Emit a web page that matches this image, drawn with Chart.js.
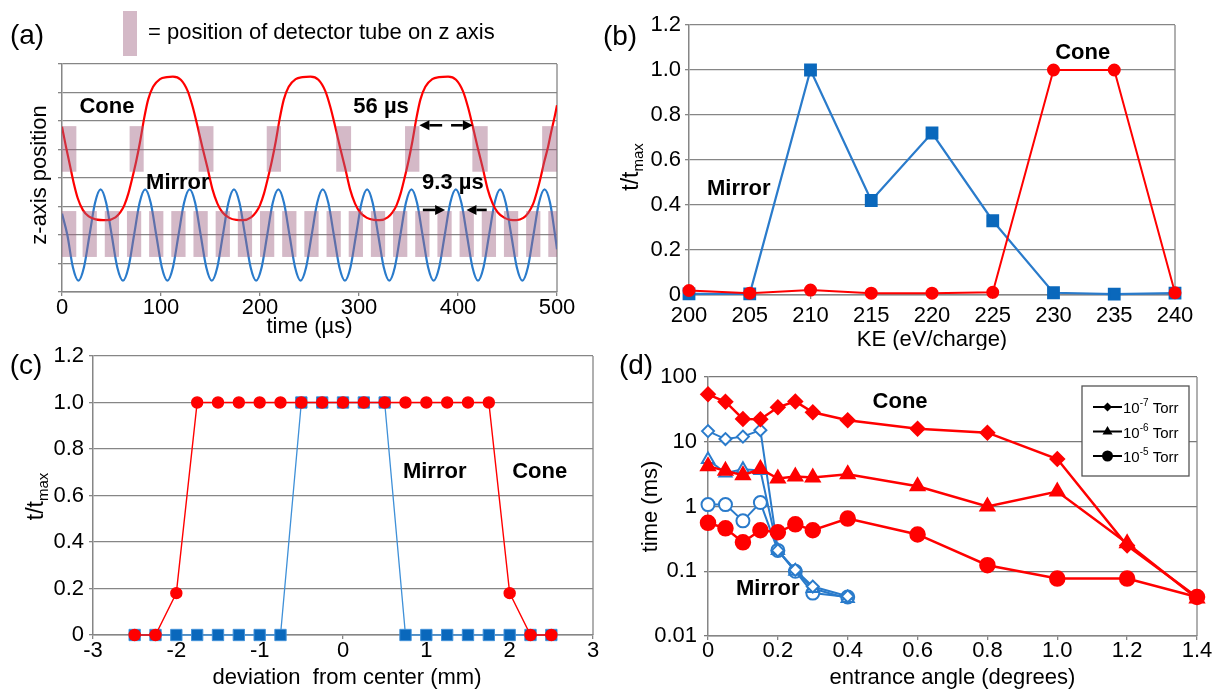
<!DOCTYPE html>
<html lang="en">
<head>
<meta charset="UTF-8">
<title>Trapping in cone and mirror</title>
<script src="https://cdn.jsdelivr.net/npm/chart.js"></script>
<style>
  html, body { margin: 0; padding: 0; background: #fff; }
  #page { position: relative; width: 1220px; height: 694px; overflow: hidden; }
  #page canvas { position: absolute; }
</style>
</head>
<body>
<div id="page">
  <canvas id="panelA" width="600" height="345" style="left:0px;top:0px"></canvas>
  <canvas id="panelB" width="620" height="350" style="left:600px;top:0px"></canvas>
  <canvas id="panelC" width="610" height="354" style="left:0px;top:340px"></canvas>
  <canvas id="panelD" width="620" height="354" style="left:600px;top:340px"></canvas>
</div>
<script>
const FONT = '"Liberation Sans", Arial, sans-serif';
const RED = '#ff0000';
const BLUE = '#2a7bcb';
const BLUE_DARK = '#0a68bc';
const GRID = '#868686';
const TUBE = 'rgba(160, 100, 130, 0.45)';

// (a) z position against time
const timeTicks = [0, 100, 200, 300, 400, 500];
const zTicks = [0, 1, 2, 3, 4, 5, 6, 7, 8];
const coneT = [0, 4, 8, 12, 16, 21, 27, 34, 45, 54, 59, 63, 67, 71, 75, 79, 83, 87, 92, 99, 106, 112,
  120, 127, 132, 137, 142, 147, 152, 157, 162, 169, 176, 183,
  191, 196, 200, 204, 208, 212, 216, 220, 224, 229, 236, 243, 251,
  259, 266, 271, 276, 281, 286, 291, 296, 301, 308, 315, 321,
  329, 334, 338, 342, 346, 350, 354, 358, 362, 367, 374, 381, 390,
  398, 405, 410, 415, 420, 425, 430, 435, 440, 447, 453, 459,
  466, 471, 476, 480, 483, 487, 491, 494, 497, 500];
const coneZ = [5.8, 5.1, 4.45, 3.8, 3.28, 2.88, 2.65, 2.55, 2.52, 2.62, 2.8, 3.05, 3.45, 4.0, 4.6, 5.3, 6.1, 6.75, 7.2, 7.47, 7.54, 7.56,
  7.45, 7.05, 6.5, 5.8, 5.05, 4.35, 3.6, 3.1, 2.8, 2.6, 2.53, 2.52,
  2.62, 2.8, 3.05, 3.45, 4.0, 4.6, 5.3, 6.1, 6.75, 7.2, 7.47, 7.54, 7.56,
  7.45, 7.05, 6.5, 5.8, 5.05, 4.35, 3.6, 3.1, 2.8, 2.6, 2.53, 2.52,
  2.62, 2.8, 3.05, 3.45, 4.0, 4.6, 5.3, 6.1, 6.75, 7.2, 7.47, 7.54, 7.56,
  7.45, 7.05, 6.5, 5.8, 5.05, 4.35, 3.6, 3.1, 2.8, 2.6, 2.53, 2.52,
  2.6, 2.78, 3.1, 3.55, 3.95, 4.55, 5.1, 5.6, 6.05, 6.55];
const mirrorT = [0, 5.4, 11, 16.6,
  22.2, 27.8, 33.4, 39, 44.6, 50.2, 55.8, 61.6,
  67.2, 72.8, 78.4, 84, 89.6, 95.2, 100.8, 106.5,
  112.1, 117.7, 123.3, 128.9, 134.5, 140.1, 145.7, 151.3,
  156.9, 162.5, 168.1, 173.7, 179.3, 184.9, 190.5, 196.1,
  201.7, 207.3, 212.9, 218.6, 224.2, 229.8, 235.4, 241,
  246.6, 252.2, 257.8, 263.4, 269, 274.6, 280.2, 285.8,
  291.4, 297, 302.6, 308.2, 313.8, 319.4, 325, 330.6,
  336.2, 341.8, 347.4, 353, 358.6, 364.2, 369.8, 375.4,
  381, 386.6, 392.2, 397.8, 403.4, 409, 414.6, 420.2,
  425.8, 431.4, 437, 442.6, 448.2, 453.8, 459.4, 465,
  470.6, 476.2, 481.8, 487.4, 493, 498, 500];
const mirrorZ = [2.75, 2.0, 0.87, 0.4,
  0.87, 2.0, 3.13, 3.6, 3.13, 2.0, 0.87, 0.4,
  0.87, 2.0, 3.13, 3.6, 3.13, 2.0, 0.87, 0.4,
  0.87, 2.0, 3.13, 3.6, 3.13, 2.0, 0.87, 0.4,
  0.87, 2.0, 3.13, 3.6, 3.13, 2.0, 0.87, 0.4,
  0.87, 2.0, 3.13, 3.6, 3.13, 2.0, 0.87, 0.4,
  0.87, 2.0, 3.13, 3.6, 3.13, 2.0, 0.87, 0.4,
  0.87, 2.0, 3.13, 3.6, 3.13, 2.0, 0.87, 0.4,
  0.87, 2.0, 3.13, 3.6, 3.13, 2.0, 0.87, 0.4,
  0.87, 2.0, 3.13, 3.6, 3.13, 2.0, 0.87, 0.4,
  0.87, 2.0, 3.13, 3.6, 3.13, 2.0, 0.87, 0.4,
  0.87, 2.0, 3.13, 3.6, 3.13, 2.0, 1.5];
// detector tube: z extent and the time windows the ion spends inside it
const coneTubeZ = [4.22, 5.82];
const mirrorTubeZ = [1.23, 2.84];
const coneTubeWindows = [[0, 14.5], [68.3, 82.5], [138, 153], [206.8, 221.2], [277, 292], [346.5, 361], [414.5, 430], [485, 500]];
const mirrorTubeWindows = [[0, 14.4], [20.8, 35.2], [43.2, 57.6], [65.6, 80], [88, 102.4], [110.4, 124.8], [132.8, 147.2],
  [155.2, 169.6], [177.6, 192], [200, 214.4], [222.4, 236.8], [244.8, 259.2], [267.2, 281.6], [289.6, 304],
  [312, 326.4], [334.4, 348.8], [356.8, 371.2], [379.2, 393.6], [401.6, 416], [424, 438.4], [446.4, 460.8],
  [468.8, 483.2], [491.2, 500]];

// (b) normalised trapping time against kinetic energy
const keV = [200, 205, 210, 215, 220, 225, 230, 235, 240];
const keMirror = [0.005, 0.005, 1.0, 0.42, 0.72, 0.33, 0.01, 0.004, 0.008];
const keCone = [0.02, 0.008, 0.022, 0.008, 0.008, 0.012, 1.0, 1.0, 0.01];
const fracTicks = [0, 0.2, 0.4, 0.6, 0.8, 1.0, 1.2];
const fracLabels = ['0', '0.2', '0.4', '0.6', '0.8', '1.0', '1.2'];

// (c) normalised trapping time against beam offset
const offsetMm = [-2.5, -2.25, -2, -1.75, -1.5, -1.25, -1, -0.75, -0.5, -0.25, 0, 0.25, 0.5, 0.75, 1, 1.25, 1.5, 1.75, 2, 2.25, 2.5];
const offsetMirror = [0, 0, 0, 0, 0, 0, 0, 0, 1, 1, 1, 1, 1, 0, 0, 0, 0, 0, 0, 0, 0];
const offsetCone = [0, 0, 0.18, 1, 1, 1, 1, 1, 1, 1, 1, 1, 1, 1, 1, 1, 1, 1, 0.18, 0, 0];
const mmTicks = [-3, -2, -1, 0, 1, 2, 3];

// (d) trapping time (ms) against entrance angle, three pressures
const angleCone = [0, 0.05, 0.1, 0.15, 0.2, 0.25, 0.3, 0.4, 0.6, 0.8, 1.0, 1.2, 1.4];
const cone7 = [54, 41.5, 22.5, 22.3, 34, 42, 28.5, 21.5, 15.9, 13.8, 5.4, 0.25, 0.04];
const cone6 = [4.2, 3.55, 3.05, 3.8, 2.7, 2.9, 2.8, 3.15, 2.05, 1.0, 1.7, 0.27, 0.038];
const cone5 = [0.56, 0.46, 0.28, 0.43, 0.4, 0.53, 0.43, 0.65, 0.37, 0.124, 0.077, 0.077, 0.04];
const angleMirror = [0, 0.05, 0.1, 0.15, 0.2, 0.25, 0.3, 0.4];
const mirror7 = [14.6, 11, 12, 15.1, 0.21, 0.105, 0.058, 0.041];
const mirror6 = [5.3, 3.3, 3.75, 3.6, 0.21, 0.1, 0.054, 0.038];
const mirror5 = [1.07, 1.07, 0.6, 1.15, 0.21, 0.1, 0.046, 0.04];
const angleTicks = [0, 0.2, 0.4, 0.6, 0.8, 1.0, 1.2, 1.4];
const angleLabels = ['0', '0.2', '0.4', '0.6', '0.8', '1.0', '1.2', '1.4'];
const msTicks = [0.01, 0.1, 1, 10, 100];
const msLabels = ['0.01', '0.1', '1', '10', '100'];
const pressureExp = ['-7', '-6', '-5'];
const pressureStyle = ['rectRot', 'triangle', 'circle'];

Chart.defaults.font.family = FONT;

const pts = (xs, ys) => xs.map((v, i) => ({ x: v, y: ys[i] }));

function xAxis(o) {
  return {
    type: 'linear', min: o.min, max: o.max,
    afterBuildTicks: s => { s.ticks = o.ticks.map(v => ({ value: v })); },
    afterFit: s => { s.height = o.height; },
    ticks: {
      autoSkip: false, maxRotation: 0, padding: o.pad, color: '#000',
      font: { family: FONT, size: 22, lineHeight: 1 },
      callback: (v, i) => o.labels[i]
    },
    grid: { drawOnChartArea: false, tickLength: 4, color: GRID, lineWidth: 1.3 },
    border: { color: GRID, width: 1.5 }
  };
}

function yAxis(o) {
  return {
    type: o.type || 'linear', min: o.min, max: o.max,
    afterBuildTicks: s => { s.ticks = o.ticks.map(v => ({ value: v })); },
    afterFit: s => { s.width = o.width; },
    ticks: {
      display: !!o.labels, padding: o.pad || 3, color: '#000',
      font: { family: FONT, size: 22, lineHeight: 1 },
      callback: (v, i) => (o.labels ? o.labels[i] : '')
    },
    grid: { tickLength: 4, color: o.grid || GRID, lineWidth: 1.3 },
    border: { color: GRID, width: 1.5 }
  };
}

function baseOptions(top, right, scales) {
  return {
    responsive: false, animation: false, events: [],
    layout: { padding: { left: 0, top: top, right: right, bottom: 0 } },
    plugins: { legend: { display: false }, tooltip: { enabled: false } },
    scales: scales
  };
}

function put(ctx, str, x, y, size, o = {}) {
  ctx.save();
  ctx.font = (o.bold ? 'bold ' : '') + size + 'px ' + FONT;
  ctx.fillStyle = '#000';
  ctx.textAlign = o.align || 'center';
  ctx.textBaseline = 'middle';
  ctx.translate(x, y);
  if (o.rotate) ctx.rotate(-Math.PI / 2);
  ctx.fillText(str, 0, 0);
  ctx.restore();
}

// text made of runs with their own size and baseline shift (sub/superscripts)
function putRuns(ctx, runs, x, y, o = {}) {
  ctx.save();
  ctx.translate(x, y);
  if (o.rotate) ctx.rotate(-Math.PI / 2);
  ctx.fillStyle = '#000';
  ctx.textBaseline = 'alphabetic';
  ctx.textAlign = 'left';
  const widths = runs.map(r => { ctx.font = r.size + 'px ' + FONT; return ctx.measureText(r.t).width; });
  let cx = o.align === 'left' ? 0 : -widths.reduce((s, w) => s + w, 0) / 2;
  runs.forEach((r, i) => { ctx.font = r.size + 'px ' + FONT; ctx.fillText(r.t, cx, r.dy); cx += widths[i]; });
  ctx.restore();
}

const tMax = [{ t: 't/t', size: 23, dy: 8 }, { t: 'max', size: 15, dy: 13 }];

function arrow(ctx, x1, x2, y) {
  const dir = Math.sign(x2 - x1), head = 10, half = 5;
  ctx.save();
  ctx.strokeStyle = '#000';
  ctx.fillStyle = '#000';
  ctx.lineWidth = 2.6;
  ctx.beginPath();
  ctx.moveTo(x1, y);
  ctx.lineTo(x2 - dir * head, y);
  ctx.stroke();
  ctx.beginPath();
  ctx.moveTo(x2, y);
  ctx.lineTo(x2 - dir * head, y - half);
  ctx.lineTo(x2 - dir * head, y + half);
  ctx.closePath();
  ctx.fill();
  ctx.restore();
}

function rightEdge(chart) {
  const { ctx, chartArea: a } = chart;
  ctx.save();
  ctx.strokeStyle = GRID;
  ctx.lineWidth = 1.3;
  ctx.beginPath();
  ctx.moveTo(a.right, a.top);
  ctx.lineTo(a.right, a.bottom);
  ctx.stroke();
  ctx.restore();
}

const decor = after => ({ id: 'decor', beforeDatasetsDraw: rightEdge, afterDatasetsDraw: after });

// ---------- (a) ----------
new Chart(document.getElementById('panelA'), {
  type: 'line',
  data: {
    datasets: [
      { data: pts(coneT, coneZ), borderColor: RED, borderWidth: 2.2, pointRadius: 0, cubicInterpolationMode: 'monotone' },
      { data: pts(mirrorT, mirrorZ), borderColor: BLUE, borderWidth: 2.2, pointRadius: 0, cubicInterpolationMode: 'monotone' }
    ]
  },
  options: baseOptions(64, 43, {
    x: xAxis({ min: 0, max: 500, ticks: timeTicks, labels: timeTicks.map(String), height: 53, pad: 1 }),
    y: yAxis({ min: 0, max: 8, ticks: zTicks, labels: null, width: 62 })
  }),
  plugins: [decor(chart => {
    const { ctx, chartArea: a, scales: { x, y } } = chart;
    // tube windows, laid translucently over the traces
    ctx.save();
    ctx.beginPath();
    ctx.rect(a.left, a.top, a.width, a.height);
    ctx.clip();
    ctx.fillStyle = TUBE;
    [[coneTubeWindows, coneTubeZ], [mirrorTubeWindows, mirrorTubeZ]].forEach(([wins, z]) => {
      wins.forEach(([t0, t1]) => {
        const x0 = x.getPixelForValue(t0), x1 = x.getPixelForValue(t1);
        const y0 = y.getPixelForValue(z[1]), y1 = y.getPixelForValue(z[0]);
        ctx.fillRect(x0, y0, x1 - x0, y1 - y0);
      });
    });
    ctx.restore();

    ctx.save();
    ctx.fillStyle = TUBE;
    ctx.fillRect(a.left + 61, a.top - 53, 14, 45);
    ctx.restore();
    put(ctx, '= position of detector tube on z axis', a.left + 86, a.top - 31, 22, { align: 'left' });
    put(ctx, '(a)', a.left - 35, a.top - 28, 28);

    put(ctx, 'Cone', x.getPixelForValue(45.4), y.getPixelForValue(6.5), 22, { bold: true });
    put(ctx, 'Mirror', x.getPixelForValue(117), y.getPixelForValue(3.83), 22, { bold: true });
    put(ctx, '56 µs', x.getPixelForValue(322.3), y.getPixelForValue(6.5), 22, { bold: true });
    put(ctx, '9.3 µs', x.getPixelForValue(394.8), y.getPixelForValue(3.83), 22, { bold: true });

    const yTop = y.getPixelForValue(5.85), yLow = y.getPixelForValue(2.88);
    arrow(ctx, x.getPixelForValue(384), x.getPixelForValue(361), yTop);
    arrow(ctx, x.getPixelForValue(393), x.getPixelForValue(415), yTop);
    arrow(ctx, x.getPixelForValue(364.5), x.getPixelForValue(387), yLow);
    arrow(ctx, x.getPixelForValue(429), x.getPixelForValue(408.5), yLow);

    put(ctx, 'z-axis position', a.left - 22, (a.top + a.bottom) / 2 - 3, 22, { rotate: true });
    put(ctx, 'time (µs)', (a.left + a.right) / 2, a.bottom + 35, 22);
  })]
});

// ---------- (b) ----------
new Chart(document.getElementById('panelB'), {
  type: 'line',
  data: {
    datasets: [
      { data: pts(keV, keCone), borderColor: RED, borderWidth: 2, pointStyle: 'circle', pointRadius: 5.5,
        pointBackgroundColor: RED, pointBorderColor: RED, clip: false },
      { data: pts(keV, keMirror), borderColor: BLUE, borderWidth: 2.2, pointStyle: 'rect', pointRadius: 7.5,
        pointBackgroundColor: BLUE_DARK, pointBorderColor: BLUE_DARK, clip: false }
    ]
  },
  options: baseOptions(25, 45, {
    x: xAxis({ min: 200, max: 240, ticks: keV, labels: keV.map(String), height: 55, pad: 6 }),
    y: yAxis({ min: 0, max: 1.2, ticks: fracTicks, labels: fracLabels, width: 89, pad: 4 })
  }),
  plugins: [decor(chart => {
    const { ctx, chartArea: a, scales: { x, y } } = chart;
    put(ctx, '(b)', a.left - 69, a.top + 12, 28);
    put(ctx, 'Mirror', x.getPixelForValue(204.1), y.getPixelForValue(0.473), 22, { bold: true });
    put(ctx, 'Cone', x.getPixelForValue(232.4), y.getPixelForValue(1.077), 22, { bold: true });
    putRuns(ctx, tMax, a.left - 59, (a.top + a.bottom) / 2 + 7, { rotate: true });
    put(ctx, 'KE (eV/charge)', (a.left + a.right) / 2, a.bottom + 45, 22);
  })]
});

// ---------- (c) ----------
new Chart(document.getElementById('panelC'), {
  type: 'line',
  data: {
    datasets: [
      { data: pts(offsetMm, offsetCone), borderColor: RED, borderWidth: 1.4, pointStyle: 'circle', pointRadius: 5.5,
        pointBackgroundColor: RED, pointBorderColor: RED, clip: false },
      { data: pts(offsetMm, offsetMirror), borderColor: '#3f90d8', borderWidth: 1.3, pointStyle: 'rect', pointRadius: 8,
        pointBackgroundColor: BLUE_DARK, pointBorderColor: '#3f90d8', pointBorderWidth: 1, clip: false }
    ]
  },
  options: baseOptions(16, 17, {
    x: xAxis({ min: -3, max: 3, ticks: mmTicks, labels: mmTicks.map(String), height: 59, pad: 1 }),
    y: yAxis({ min: 0, max: 1.2, ticks: fracTicks, labels: fracLabels, width: 93, pad: 5 })
  }),
  plugins: [decor(chart => {
    const { ctx, chartArea: a, scales: { x, y } } = chart;
    put(ctx, '(c)', a.left - 67, a.top + 10, 28);
    put(ctx, 'Mirror', x.getPixelForValue(1.1), y.getPixelForValue(0.7), 22, { bold: true });
    put(ctx, 'Cone', x.getPixelForValue(2.36), y.getPixelForValue(0.7), 22, { bold: true });
    putRuns(ctx, tMax, a.left - 58, (a.top + a.bottom) / 2 + 1, { rotate: true });
    put(ctx, 'deviation  from center (mm)', (a.left + a.right) / 2 + 4, a.bottom + 43, 22);
  })]
});

// ---------- (d) ----------
const coneSets = [cone7, cone6, cone5].map((vals, i) => ({
  data: pts(angleCone, vals), borderColor: RED, borderWidth: 2.5,
  pointStyle: pressureStyle[i], pointRadius: [6.5, 7.5, 7][i],
  pointBackgroundColor: RED, pointBorderColor: RED, clip: false
}));
const mirrorSets = [mirror7, mirror6, mirror5].map((vals, i) => ({
  data: pts(angleMirror, vals), borderColor: BLUE, borderWidth: 2,
  pointStyle: pressureStyle[i], pointRadius: [6, 7, 6.5][i], pointBorderWidth: 2,
  pointBackgroundColor: '#fff', pointBorderColor: BLUE, clip: false
}));

new Chart(document.getElementById('panelD'), {
  type: 'line',
  data: { datasets: coneSets.concat(mirrorSets) },
  options: baseOptions(37, 23, {
    x: xAxis({ min: 0, max: 1.4, ticks: angleTicks, labels: angleLabels, height: 58, pad: 0 }),
    y: yAxis({ type: 'logarithmic', min: 0.01, max: 100, ticks: msTicks, labels: msLabels, width: 108, pad: 7, grid: '#7a7a7a' })
  }),
  plugins: [decor(chart => {
    const { ctx, chartArea: a, scales: { x, y } } = chart;
    put(ctx, '(d)', a.left - 72, a.top - 11, 28);
    put(ctx, 'Cone', x.getPixelForValue(0.55), y.getPixelForValue(41.5), 22, { bold: true });
    put(ctx, 'Mirror', x.getPixelForValue(0.171), y.getPixelForValue(0.054), 22, { bold: true });
    put(ctx, 'time (ms)', a.left - 57, (a.top + a.bottom) / 2, 22, { rotate: true });
    put(ctx, 'entrance angle (degrees)', (a.left + a.right) / 2, a.bottom + 42, 22);

    // pressure legend
    const bx = a.right - 115, by = a.top + 9, bw = 107, bh = 90;
    ctx.save();
    ctx.fillStyle = '#fff';
    ctx.fillRect(bx, by, bw, bh);
    ctx.strokeStyle = '#555';
    ctx.lineWidth = 1.3;
    ctx.strokeRect(bx, by, bw, bh);
    pressureExp.forEach((exp, i) => {
      const yy = by + 21 + i * 24.5, mx = bx + 25.5;
      ctx.strokeStyle = '#000';
      ctx.fillStyle = '#000';
      ctx.lineWidth = 2;
      ctx.beginPath();
      ctx.moveTo(bx + 11, yy);
      ctx.lineTo(bx + 40, yy);
      ctx.stroke();
      ctx.beginPath();
      if (pressureStyle[i] === 'rectRot') {
        ctx.moveTo(mx, yy - 4.5); ctx.lineTo(mx + 4.5, yy); ctx.lineTo(mx, yy + 4.5); ctx.lineTo(mx - 4.5, yy);
      } else if (pressureStyle[i] === 'triangle') {
        ctx.moveTo(mx, yy - 5.5); ctx.lineTo(mx + 5, yy + 3); ctx.lineTo(mx - 5, yy + 3);
      } else {
        ctx.arc(mx, yy, 5.5, 0, Math.PI * 2);
      }
      ctx.closePath();
      ctx.fill();
      putRuns(ctx, [{ t: '10', size: 15, dy: 6 }, { t: exp, size: 10, dy: -1 }, { t: ' Torr', size: 15, dy: 6 }],
        bx + 41, yy, { align: 'left' });
    });
    ctx.restore();
  })]
});
</script>
</body>
</html>
